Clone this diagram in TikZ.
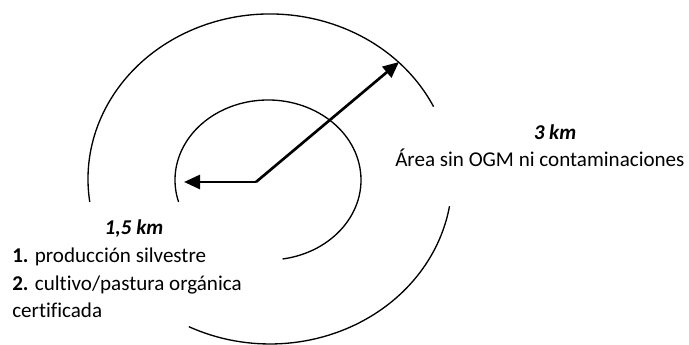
\documentclass[tikz,border=0pt]{standalone}
\usepackage{fontspec}
\setmainfont{Carlito}[Ligatures=NoCommon]
\usetikzlibrary{arrows.meta}

\tikzset{
  ring/.style={line width=1pt},
  ptr/.style={line width=2pt, -{Triangle[length=12pt,width=10.5pt]}},
  lbl/.style={inner sep=0pt, font=\fontsize{15.8}{21}\selectfont}
}

\begin{document}
\begin{tikzpicture}[x=0.75pt,y=0.75pt]
\useasboundingbox (0,0) rectangle (689,345);
%\draw[step=50,gray,very thin] (0,0) grid (689,345);
% outer ring (3 km), broken where the texts stand
\draw[ring] (270,166) ++(26:182 and 165) arc[start angle=26, end angle=188, x radius=182, y radius=165];
\draw[ring] (270,166) ++(-116.5:182 and 165) arc[start angle=-116.5, end angle=-9.5, x radius=182, y radius=165];
% inner ring (1,5 km)
\draw[ring] (268,165) ++(-81:93 and 80) arc[start angle=-81, end angle=196, x radius=93, y radius=80];
% radii
\coordinate (mid) at (256,163);
\coordinate (tipin) at (184,163);
\coordinate (tipout) at (399,283);
\draw[ptr] (mid) -- (tipin);
\draw[ptr] (mid) -- (tipout);
% labels
\node[lbl, anchor=base] (km3) at (555,205) {\textbf{\textit{3 km}}};
\node[lbl, anchor=base west] (area) at (395,178) {Área sin OGM ni contaminaciones};
\node[lbl, anchor=base] (km15) at (134,110) {\textbf{\textit{1,5 km}}};
\node[lbl, anchor=base west] (use1) at (12,82) {\textbf{1.} producción silvestre};
\node[lbl, anchor=base west] (use2) at (12,54) {\textbf{2.} cultivo/pastura orgánica};
\node[lbl, anchor=base west] (use3) at (12,27) {certificada};
\end{tikzpicture}
\end{document}
